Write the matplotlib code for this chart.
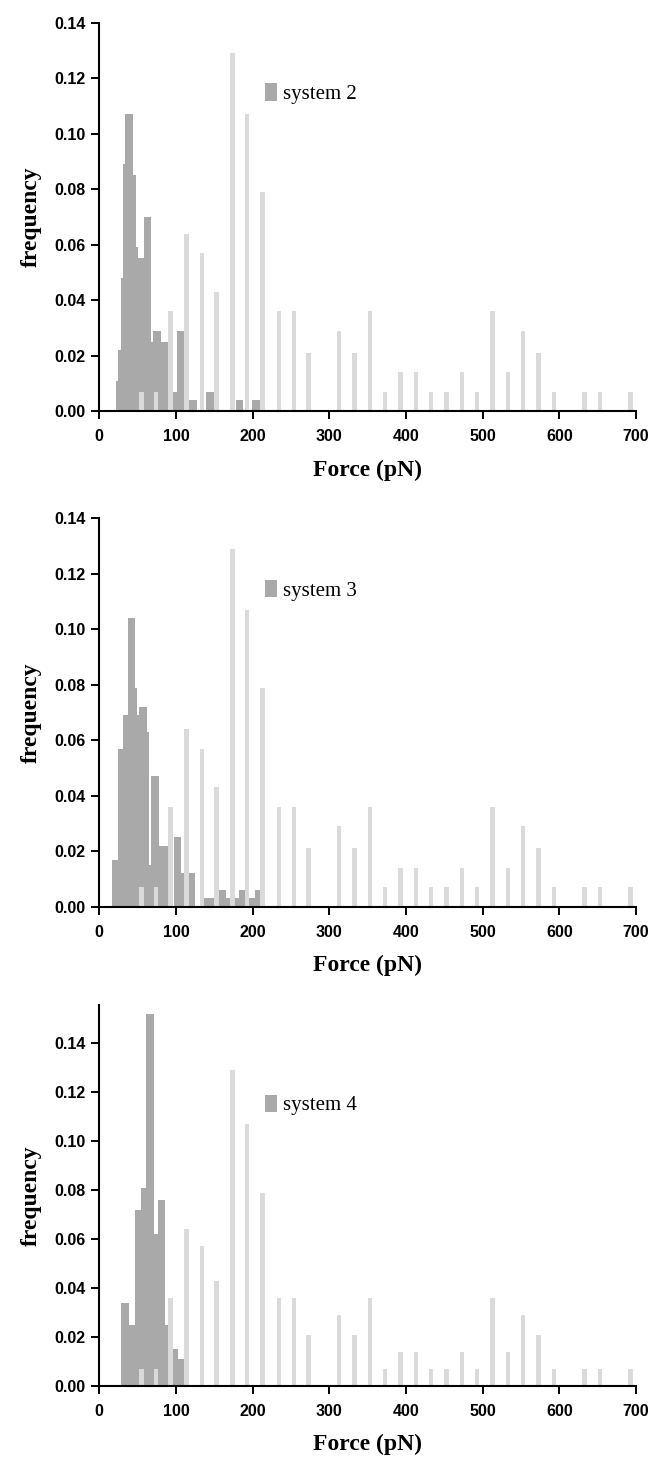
import matplotlib.pyplot as plt
from matplotlib.patches import Patch

# background distribution (light bars), identical in all three panels
base_force = [55, 74, 93, 114, 134, 153, 174, 193, 213, 234, 254, 273, 313, 333, 353,
              373, 393, 413, 433, 453, 473, 493, 513, 533, 553, 573, 593, 633, 653, 693]
base_freq = [0.007, 0.007, 0.036, 0.064, 0.057, 0.043, 0.129, 0.107, 0.079, 0.036,
             0.036, 0.021, 0.029, 0.021, 0.036, 0.007, 0.014, 0.014, 0.007, 0.007,
             0.014, 0.007, 0.036, 0.014, 0.029, 0.021, 0.007, 0.007, 0.007, 0.007]

# system 2
s2_force = [27, 30, 33, 36, 39, 43, 46, 53, 63, 65, 75, 84, 86, 97, 106, 112,
            122, 144, 183, 204]
s2_freq = [0.011, 0.022, 0.048, 0.089, 0.107, 0.085, 0.059, 0.055, 0.070, 0.025,
           0.029, 0.025, 0.014, 0.007, 0.029, 0.011, 0.004, 0.007, 0.004, 0.004]

# system 3
s3_force = [21, 30, 36, 42, 44, 47, 57, 60, 63, 73, 82, 91, 102, 112, 120,
            140, 146, 160, 167, 181, 187, 199, 208]
s3_freq = [0.017, 0.057, 0.069, 0.104, 0.079, 0.069, 0.072, 0.063, 0.015, 0.047,
           0.022, 0.022, 0.025, 0.012, 0.012, 0.003, 0.003, 0.006, 0.003, 0.003,
           0.006, 0.003, 0.006]

# system 4
s4_force = [34, 41, 51, 60, 66, 72, 81, 91, 98, 105]
s4_freq = [0.034, 0.025, 0.072, 0.081, 0.152, 0.062, 0.076, 0.025, 0.015, 0.011]

labels = ['system 2', 'system 3', 'system 4']
xticks = [0, 100, 200, 300, 400, 500, 600, 700]
yticks = [0.00, 0.02, 0.04, 0.06, 0.08, 0.10, 0.12, 0.14]

dark = '#a9a9a9'
light = '#dadada'

fig = plt.figure(figsize=(6.53, 14.58), dpi=100)
boxes = [[0.152, 0.7181, 0.822, 0.2663],
         [0.152, 0.3781, 0.822, 0.2664],
         [0.152, 0.0494, 0.822, 0.2613]]
ytops = [0.14, 0.14, 0.1556]
leg_y = [0.8175, 0.815, 0.7375]
series = [(s2_force, s2_freq), (s3_force, s3_freq), (s4_force, s4_freq)]

for i, (fx, fy) in enumerate(series):
    ax = fig.add_axes(boxes[i])
    ax.bar(fx, fy, width=10, color=dark, linewidth=0, zorder=1)
    ax.bar(base_force, base_freq, width=5.7, color=light, linewidth=0, zorder=2)

    ax.set_xlim(0, 700)
    ax.set_ylim(0, ytops[i])
    ax.set_xticks(xticks)
    ax.set_yticks(yticks)
    ax.set_yticklabels(['%.2f' % t for t in yticks])

    for s in ['top', 'right']:
        ax.spines[s].set_visible(False)
    for s in ['left', 'bottom']:
        ax.spines[s].set_linewidth(1.5)
    ax.tick_params(direction='out', length=6, width=1.4)
    ax.tick_params(axis='y', pad=4)
    ax.tick_params(axis='x', pad=7)
    for t in ax.get_xticklabels() + ax.get_yticklabels():
        t.set_fontfamily('Liberation Sans')
        t.set_fontweight('bold')
        t.set_fontsize(11.5)

    ax.set_xlabel('Force (pN)', fontfamily='Liberation Serif', fontweight='bold',
                  fontsize=17, labelpad=11)
    ax.set_ylabel('frequency', fontfamily='Liberation Serif', fontweight='bold',
                  fontsize=17, labelpad=9)

    handle = Patch(facecolor=dark, edgecolor='none')
    ax.legend([handle], [labels[i]], loc='center left',
              bbox_to_anchor=(0.3087, leg_y[i]), frameon=False,
              prop={'family': 'Liberation Serif', 'size': 15},
              handlelength=0.58, handleheight=0.91, handletextpad=0.3,
              borderpad=0, borderaxespad=0)

fig.savefig('out.png', dpi=100, facecolor='white')
